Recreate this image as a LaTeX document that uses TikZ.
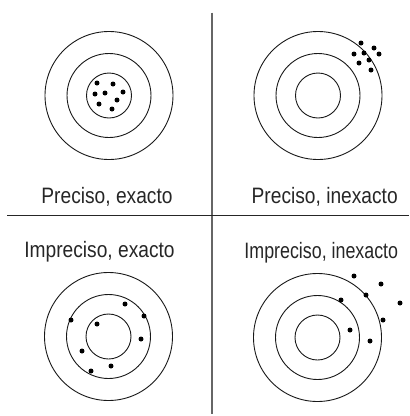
\documentclass[tikz,border=0pt]{standalone}
\usepackage{fontspec}
\setmainfont{Liberation Sans}
\newfontfamily\capfont[FakeStretch=0.86]{Liberation Sans}
\newfontfamily\capfontnarrow[FakeStretch=0.80]{Liberation Sans}
\usepackage{tikz}
\tikzset{ring/.style={draw=black!90, line width=0.9pt}}
\tikzset{dot/.style={circle, fill=black, inner sep=0pt, minimum size=5pt}}
\tikzset{caption/.style={anchor=base, inner sep=0pt, font=\capfont\fontsize{22.3}{26}\selectfont, text=black!85}}
\newcommand{\target}[1]{%
  \draw[ring] (#1) circle (64);
  \draw[ring] (#1) circle (42);
  \draw[ring] (#1) circle (22.5);}

\begin{document}
\begin{tikzpicture}[x=1pt, y=-1pt]
    \useasboundingbox (0, 0) rectangle (410, 416);
    % dividing lines
    \coordinate (vtop) at (212, 12.5);
    \coordinate (vbot) at (212, 414);
    \coordinate (hleft) at (7, 215.7);
    \coordinate (hright) at (409, 215.7);
    \draw[black!60, line width=1.4pt] (vtop) -- (vbot);
    \draw[black!85, line width=1pt] (hleft) -- (hright);
    % targets
    \coordinate (PE) at (109, 95.5);
    \coordinate (PI) at (318, 95.5);
    \coordinate (IE) at (108.5, 336.5);
    \coordinate (II) at (317.5, 337.5);
    \target{PE}
    \target{PI}
    \target{IE}
    \target{II}
    % captions
    \node[caption] (PEtext) at (107, 203.3) {Preciso, exacto};
    \node[caption] (PItext) at (324.7, 203.3) {Preciso, inexacto};
    \node[caption] (IEtext) at (99.5, 257.5) {Impreciso, exacto};
    \node[caption, font=\capfontnarrow\fontsize{22.3}{26}\selectfont] (IItext) at (321.3, 258.5) {Impreciso, inexacto};
    % shots: preciso, exacto
    \node[dot] (pe1) at (97, 83) {};
    \node[dot] (pe2) at (113, 84) {};
    \node[dot] (pe3) at (95, 94) {};
    \node[dot] (pe4) at (105, 93) {};
    \node[dot] (pe5) at (123, 92) {};
    \node[dot] (pe6) at (117, 100) {};
    \node[dot] (pe7) at (99, 104) {};
    \node[dot] (pe8) at (112, 109) {};
    % shots: preciso, inexacto
    \node[dot] (pi1) at (361, 43) {};
    \node[dot] (pi2) at (374, 48) {};
    \node[dot] (pi3) at (354, 54) {};
    \node[dot] (pi4) at (364, 53) {};
    \node[dot] (pi5) at (379, 54) {};
    \node[dot] (pi6) at (359, 63) {};
    \node[dot] (pi7) at (369, 60) {};
    \node[dot] (pi8) at (371, 70) {};
    % shots: impreciso, exacto
    \node[dot] (ie1) at (71, 320) {};
    \node[dot] (ie2) at (97, 324) {};
    \node[dot] (ie3) at (125, 304) {};
    \node[dot] (ie4) at (144, 316) {};
    \node[dot] (ie5) at (141, 339) {};
    \node[dot] (ie6) at (82, 351) {};
    \node[dot] (ie7) at (111, 366) {};
    \node[dot] (ie8) at (91, 371) {};
    % shots: impreciso, inexacto
    \node[dot] (ii1) at (354, 276) {};
    \node[dot] (ii2) at (381, 284) {};
    \node[dot] (ii3) at (366, 295) {};
    \node[dot] (ii4) at (341, 300) {};
    \node[dot] (ii5) at (400, 303) {};
    \node[dot] (ii6) at (383, 320) {};
    \node[dot] (ii7) at (350, 330) {};
    \node[dot] (ii8) at (370, 341) {};
\end{tikzpicture}
\end{document}
